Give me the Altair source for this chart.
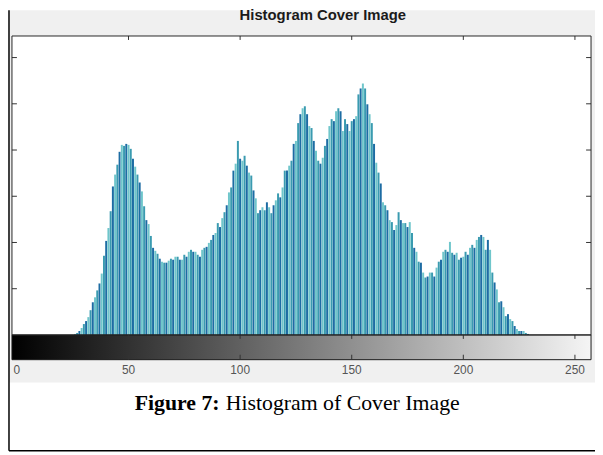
import altair as alt
import pandas as pd

# ---------------- data ----------------
levels = list(range(256))
counts = ([0] * 26 + [
    1, 2, 4, 7, 11, 14, 18, 25, 33, 38,             # 26-35
    45, 52, 62, 80, 95, 108, 125, 150, 162, 172,    # 36-45
    185, 192, 191, 193, 192, 188, 178, 170, 162, 154,  # 46-55
    145, 130, 116, 112, 100, 88, 85, 82, 77, 74,    # 56-65
    73, 73, 75, 77, 76, 79, 79, 76, 76, 81,         # 66-75
    79, 84, 86, 84, 84, 81, 79, 86, 88, 89,         # 76-85
    93, 96, 101, 103, 113, 109, 118, 124, 131, 144, # 86-95
    149, 166, 173, 196, 178, 176, 181, 171, 164, 161,  # 96-105
    146, 138, 123, 126, 129, 126, 134, 129, 123, 131,  # 106-115
    136, 143, 139, 149, 166, 166, 171, 176, 193, 196,  # 116-125
    214, 223, 229, 231, 223, 211, 209, 196, 186, 176,  # 126-135
    173, 179, 191, 198, 211, 218, 216, 226, 229, 226,  # 136-145
    206, 218, 213, 206, 216, 218, 221, 243, 249, 254,  # 146-155
    249, 233, 223, 214, 193, 174, 164, 153, 134, 131,  # 156-165
    126, 116, 114, 106, 111, 124, 116, 113, 113, 109,  # 166-175
    114, 103, 88, 84, 74, 73, 63, 58, 59, 63,       # 176-185
    63, 59, 68, 74, 76, 84, 86, 84, 94, 83,         # 186-195
    81, 83, 76, 78, 79, 84, 81, 88, 91, 88,         # 196-205
    96, 99, 101, 99, 86, 96, 86, 63, 53, 46,        # 206-215
    33, 34, 28, 19, 21, 16, 14, 9, 6, 4,            # 216-225
    4, 4, 2, 1,                                     # 226-229
] + [0] * 26)

x_ticks = [0, 50, 100, 150, 200, 250]
x_tick_labels = ["0", "50", "100", "150", "200", "250"]
y_ticks = [46.7, 93.4, 140.1, 186.8, 233.5, 280.2]
y_max = 302

title_text = "Histogram Cover Image"
caption_bold = "Figure 7:"
caption_rest = "Histogram of Cover Image"

bar_colors = ["#3a9bb0", "#1d6ca3", "#6fc6cb"]

# ---------------- layout constants ----------------
W, H = 585, 302
CB = 25  # colorbar height

df = pd.DataFrame({"level": levels, "count": counts})
df["shade"] = df["level"] % 3
df = df[df["count"] > 0]

xscale = alt.Scale(domain=[0, 255], nice=False, zero=False)
yscale = alt.Scale(domain=[0, y_max], nice=False)

one = pd.DataFrame({"a": [0]})

# figure background (gray) and white axes area
bg = alt.Chart(one).mark_rect(fill="#f0f0f0").encode(
    x=alt.value(-3), x2=alt.value(W + 6), y=alt.value(-26), y2=alt.value(H + 48)
)
plot_bg = alt.Chart(one).mark_rect(fill="white").encode(
    x=alt.value(0), x2=alt.value(W), y=alt.value(0), y2=alt.value(H)
)

bars = alt.Chart(df).mark_bar(size=2.0).encode(
    x=alt.X("level:Q", scale=xscale, axis=None),
    y=alt.Y("count:Q", scale=yscale, axis=None),
    color=alt.Color("shade:N", scale=alt.Scale(domain=[0, 1, 2], range=bar_colors),
                    legend=None),
)

colorbar = alt.Chart(one).mark_rect(
    fill=alt.Gradient(gradient="linear",
                      stops=[alt.GradientStop(color="#000000", offset=0),
                             alt.GradientStop(color="#f5f5f5", offset=1)],
                      x1=0, x2=1, y1=0, y2=0),
    stroke="#1a1a1a", strokeWidth=1,
).encode(x=alt.value(0), x2=alt.value(W), y=alt.value(H), y2=alt.value(H + CB))

tick_df = pd.DataFrame({"level": x_ticks[1:]})
top_ticks = alt.Chart(tick_df).mark_rule(color="#333333").encode(
    x=alt.X("level:Q", scale=xscale, axis=None), y=alt.value(0), y2=alt.value(4))
cb_top_ticks = alt.Chart(tick_df).mark_rule(color="#333333").encode(
    x=alt.X("level:Q", scale=xscale, axis=None), y=alt.value(H), y2=alt.value(H + 4))
cb_bot_ticks = alt.Chart(tick_df).mark_rule(color="#333333").encode(
    x=alt.X("level:Q", scale=xscale, axis=None), y=alt.value(H + CB - 5),
    y2=alt.value(H + CB))

label_df = pd.DataFrame({"level": x_ticks, "label": x_tick_labels})
x_labels = alt.Chart(label_df).mark_text(
    font="Liberation Sans", fontSize=12, color="#555555",
    align="center", baseline="middle"
).encode(x=alt.X("level:Q", scale=xscale, axis=None), y=alt.value(H + CB + 10),
         text="label:N")

ytick_df = pd.DataFrame({"count": y_ticks})
left_ticks = alt.Chart(ytick_df).mark_rule(color="#333333").encode(
    y=alt.Y("count:Q", scale=yscale, axis=None), x=alt.value(0), x2=alt.value(5))
right_ticks = alt.Chart(ytick_df).mark_rule(color="#333333").encode(
    y=alt.Y("count:Q", scale=yscale, axis=None), x=alt.value(W - 5), x2=alt.value(W))

box = alt.Chart(one).mark_rect(fillOpacity=0, stroke="#262626", strokeWidth=1).encode(
    x=alt.value(0), x2=alt.value(W), y=alt.value(0), y2=alt.value(H))

title = alt.Chart(pd.DataFrame({"t": [title_text]})).mark_text(
    font="Liberation Sans", fontWeight="bold", fontSize=15, color="#1a1a1a",
    align="center", baseline="middle"
).encode(text="t:N", x=alt.value(314), y=alt.value(-21))

cap1 = alt.Chart(pd.DataFrame({"t": [caption_bold]})).mark_text(
    font="Liberation Serif", fontWeight="bold", fontSize=22, color="black",
    align="left", baseline="middle"
).encode(text="t:N", x=alt.value(124), y=alt.value(371))
cap2 = alt.Chart(pd.DataFrame({"t": [caption_rest]})).mark_text(
    font="Liberation Serif", fontSize=22, color="black",
    align="left", baseline="middle"
).encode(text="t:N", x=alt.value(216), y=alt.value(371))

left_border = alt.Chart(one).mark_rule(color="black", strokeWidth=1.5).encode(
    x=alt.value(-3), y=alt.value(-26), y2=alt.value(H + 117))
bottom_border = alt.Chart(one).mark_rule(color="black", strokeWidth=1.5).encode(
    x=alt.value(-3), x2=alt.value(W + 10), y=alt.value(H + 117))

chart = alt.layer(
    bg, plot_bg, bars, colorbar, top_ticks, cb_top_ticks, cb_bot_ticks, x_labels,
    left_ticks, right_ticks, box, title, cap1, cap2, left_border, bottom_border
).properties(
    width=W, height=H,
    autosize=alt.AutoSizeParams(type="none"),
    padding={"left": 4, "top": 26, "right": 4, "bottom": 118},
).configure_view(stroke=None).configure(background="white")

chart.save("out.html", embed_options={"renderer": "svg", "actions": False})
